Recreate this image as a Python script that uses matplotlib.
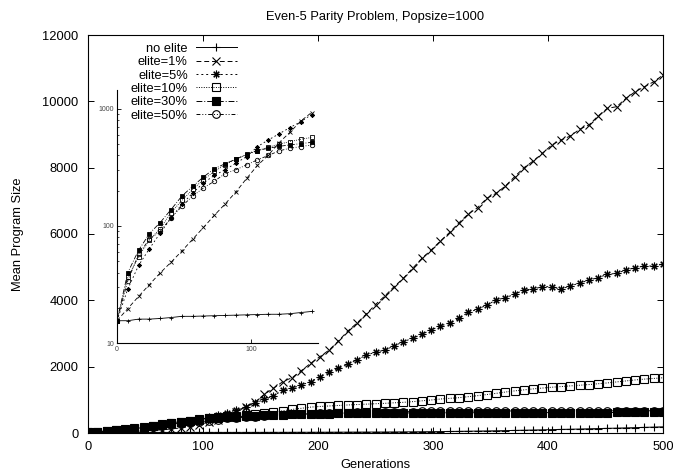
import numpy as np
import matplotlib
matplotlib.use("Agg")
import matplotlib.pyplot as plt

plt.rcParams['font.family'] = ['Liberation Sans', 'DejaVu Sans']

# generations (one point every ~8 generations)
gens = np.linspace(0, 500, 63)

no_elite = [15.5, 15.5, 16.0, 16.0, 16.2, 16.5, 16.9, 16.9, 17.0, 17.1,
            17.2, 17.3, 17.4, 17.5, 17.6, 17.6, 17.8, 18.2, 18.6, 19,
            20, 20, 21, 22, 22, 23, 24, 25, 26, 27,
            28, 29, 30, 32, 34, 36, 38, 40, 43, 46,
            50, 54, 58, 62, 67, 72, 78, 84, 90, 96,
            102, 108, 114, 120, 127, 134, 140, 147, 154, 162,
            170, 178, 186]
elite_1 = [15.5, 19.7, 25, 31.6, 39.7, 49, 61, 77, 97, 123,
           154, 195, 255, 329, 402, 515, 630, 787, 930, 1166,
           1347, 1547, 1668, 1879, 2100, 2300, 2502, 2773, 3070, 3316,
           3583, 3874, 4130, 4411, 4664, 4965, 5266, 5517, 5788, 6050,
           6340, 6602, 6793, 7076, 7226, 7446, 7727, 7998, 8200, 8432,
           8683, 8833, 8954, 9156, 9286, 9557, 9789, 9838, 10089, 10290,
           10440, 10591, 10793]
elite_5 = [15.5, 29, 46, 64, 87, 117, 153, 191, 233, 270,
           302, 344, 391, 476, 543, 612, 693, 775, 895, 1015,
           1115, 1296, 1347, 1447, 1547, 1698, 1849, 1950, 2070, 2201,
           2352, 2432, 2502, 2623, 2754, 2855, 2975, 3105, 3226, 3316,
           3458, 3639, 3729, 3859, 4010, 4080, 4181, 4311, 4341, 4412,
           4412, 4332, 4442, 4513, 4613, 4683, 4784, 4814, 4914, 4984,
           5035, 5035, 5095]
elite_10 = [15.5, 36.5, 54.6, 76, 95, 130, 165, 205, 249, 292,
            333, 372, 405, 440, 470, 500, 525, 550, 570, 595,
            630, 670, 710, 745, 780, 800, 815, 830, 845, 858,
            870, 882, 895, 910, 925, 945, 970, 995, 1025, 1045,
            1065, 1095, 1125, 1160, 1195, 1235, 1270, 1300, 1330, 1355,
            1380, 1400, 1420, 1440, 1460, 1485, 1510, 1540, 1570, 1600,
            1625, 1645, 1665]
elite_30 = [15.5, 40, 62, 86, 107, 138, 180, 218, 262, 308,
            340, 372, 410, 441, 461, 479, 492, 505, 518, 530,
            540, 550, 558, 565, 572, 578, 583, 588, 592, 596,
            598, 600, 602, 604, 605, 606, 607, 608, 609, 610,
            610, 611, 611, 612, 612, 613, 613, 614, 614, 615,
            615, 616, 616, 617, 617, 618, 618, 619, 619, 620,
            620, 621, 621]
elite_50 = [15.5, 34, 57.5, 77, 90, 117, 147, 180, 211, 241,
            280, 302, 333, 367, 400, 438, 461, 476, 492, 510,
            528, 545, 560, 572, 583, 593, 602, 610, 617, 623,
            628, 633, 637, 641, 645, 648, 651, 654, 656, 658,
            660, 661, 662, 663, 664, 664, 665, 665, 666, 666,
            667, 667, 667, 668, 668, 668, 669, 669, 669, 670,
            670, 670, 670]

labels = ['no elite', 'elite=1%', 'elite=5%', 'elite=10%', 'elite=30%', 'elite=50%']
values = [no_elite, elite_1, elite_5, elite_10, elite_30, elite_50]
markers = ['+', 'x', (8, 2, 0), 's', 's', 'o']
fills = ['k', 'k', 'k', 'none', 'k', 'none']
styles = ['-', (0, (5, 3)), (0, (2, 3)), (0, (1, 1.5)), (0, (6, 2, 1, 2)), (0, (4, 2, 1, 2, 1, 2))]

fs = 9.3
fig = plt.figure(figsize=(6.73, 4.74), dpi=100)
ax = fig.add_axes([88/673, 1-433/474, 575/673, 398/474])

for lab, v, m, fc, ls in zip(labels, values, markers, fills, styles):
    ax.plot(gens, v, color='k', linestyle=ls, linewidth=0.7, marker=m,
            markersize=5.5, markerfacecolor=fc, markeredgecolor='k',
            markeredgewidth=0.8, label=lab)

ax.set_xlim(0, 500)
ax.set_ylim(0, 12000)
ax.set_xticks(range(0, 501, 100))
ax.set_yticks(range(0, 12001, 2000))
ax.tick_params(direction='in', top=True, right=True, length=4, width=0.7,
               labelsize=fs)
ax.tick_params(axis='y', pad=7)
ax.tick_params(axis='x', pad=6)
for s in ax.spines.values():
    s.set_linewidth(0.8)
ax.set_xlabel('Generations', fontsize=fs, labelpad=4)
ax.set_ylabel('Mean Program Size', fontsize=fs, labelpad=13)
ax.set_title('Even-5 Parity Problem, Popsize=1000', fontsize=fs, pad=11)

# gnuplot style key: labels right aligned, sample to the right
leg = ax.legend(loc='upper right', bbox_to_anchor=(0.259, 0.98), frameon=False,
                markerfirst=False, fontsize=fs, handlelength=3.2,
                handletextpad=0.6, labelspacing=0.1, borderpad=0,
                borderaxespad=0)

# inset: first 150 generations on a log scale
ins = fig.add_axes([117/673, 1-343/474, 201/673, 253/474])
ins.patch.set_alpha(0)
g = np.asarray(gens)
mask = g <= 150
for lab, v, m, fc, ls in zip(labels, values, markers, fills, styles):
    ins.plot(g[mask], np.asarray(v)[mask], color='k', linestyle=ls,
             linewidth=0.6, marker=m, markersize=3.2, markerfacecolor=fc,
             markeredgecolor='k', markeredgewidth=0.6)
ins.set_yscale('log')
ins.set_xlim(0, 150)
ins.set_ylim(10, 1450)
ins.set_xticks([0, 100])
ins.set_yticks([10, 100, 1000])
ins.set_yticklabels(['10', '100', '1000'])
ins.spines['top'].set_visible(False)
ins.spines['right'].set_visible(False)
for s in ['left', 'bottom']:
    ins.spines[s].set_linewidth(0.8)
ins.tick_params(direction='in', length=3, width=0.6, labelsize=5,
                labelcolor='#444444', pad=2)
ins.tick_params(which='minor', direction='in', length=1.5, width=0.5)

fig.savefig('out.png', dpi=100)
